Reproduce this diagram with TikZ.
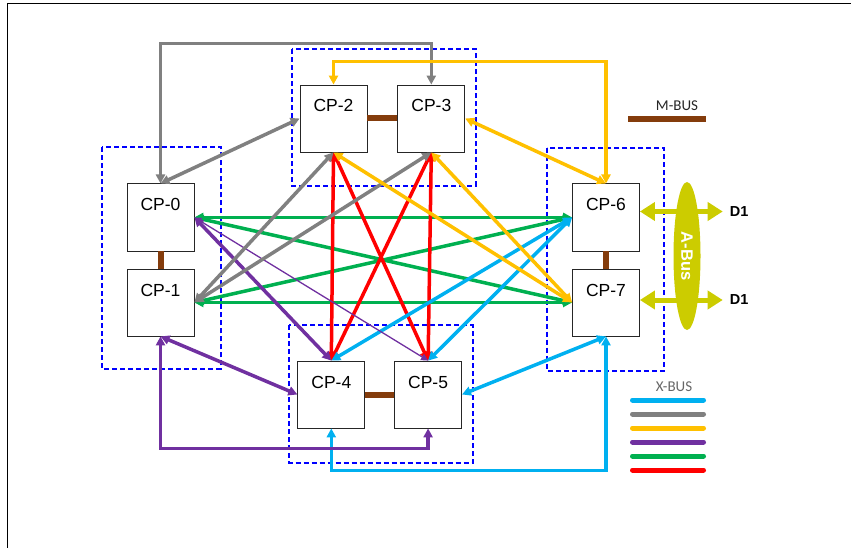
\documentclass[tikz,border=0pt]{standalone}
\usepackage{fontspec}
\setmainfont{Liberation Sans}
\newfontfamily\legendfont{Carlito}
\usetikzlibrary{arrows.meta, positioning, shapes.geometric}

\definecolor{mbus}{HTML}{843C0C}
\definecolor{xcyan}{HTML}{00B0F0}
\definecolor{xgray}{HTML}{808080}
\definecolor{xgold}{HTML}{FFC000}
\definecolor{xpurple}{HTML}{7030A0}
\definecolor{xgreen}{HTML}{00B050}
\definecolor{xred}{HTML}{FF0000}
\definecolor{abus}{HTML}{CCCC00}

\begin{document}
\begin{tikzpicture}[x=1pt, y=-1pt,
  cp/.style={draw=black!85, fill=white, line width=0.8pt, minimum width=67pt, minimum height=67pt,
    inner sep=0pt, text height=27pt, text depth=40pt, font=\fontsize{17.5}{20}\selectfont},
  grp/.style={blue, line width=1.8pt, dash pattern=on 5pt off 3pt},
  mlink/.style={mbus, line width=6pt},
  xbus/.style={line width=3.5pt, {Triangle[length=9pt,width=9pt]}-{Triangle[length=9pt,width=9pt]}},
  thinbus/.style={line width=1.3pt, {Triangle[length=7pt,width=7pt]}-{Triangle[length=7pt,width=7pt]}},
  dlink/.style={abus, line width=5pt, {Triangle[length=15pt,width=18pt]}-{Triangle[length=15pt,width=18pt]}},
  d1/.style={font=\bfseries\fontsize{14.5}{16}\selectfont, inner sep=7pt},
  legend/.style={font=\legendfont\fontsize{15}{17}\selectfont}
]
\useasboundingbox (0,0) rectangle (851,548);
\draw[line width=1pt] (7.5,548) -- (7.5,3.5) -- (851,3.5);

\draw[grp] (291.7,49.3) rectangle (475.7,185.7);
\draw[grp] (102,147.3) rectangle (220.7,369);
\draw[grp] (289,325.3) rectangle (472.7,462.7);
\draw[grp] (547.3,147.7) rectangle (664.3,370.7);

\node[cp] (cp0) at (160.5,217.4) {CP-0};
\node[cp, below=17.3pt of cp0] (cp1) {CP-1};
\node[cp] (cp2) at (333.5,118.5) {CP-2};
\node[cp, right=30pt of cp2] (cp3) {CP-3};
\node[cp] (cp4) at (331.3,394.5) {CP-4};
\node[cp, right=29pt of cp4] (cp5) {CP-5};
\node[cp] (cp6) at (606,217.4) {CP-6};
\node[cp, below=17.3pt of cp6] (cp7) {CP-7};

\coordinate (grayrail) at (0,43.3);
\coordinate (goldrail) at (0,61.7);
\coordinate (purplerail) at (0,448.3);
\coordinate (cyanrail) at (0,470.7);

\draw[mlink] (cp0.south) -- (cp1.north);
\draw[mlink] (cp2.east) -- (cp3.west);
\draw[mlink] (cp4.east) -- (cp5.west);
\draw[mlink] (cp6.south) -- (cp7.north);

\draw[xbus, xgreen] (cp0.east) -- (cp6.west);
\draw[xbus, xgreen] (cp1.east) -- (cp7.west);
\draw[xbus, xgreen] (cp0.east) -- (cp7.west);
\draw[xbus, xgreen] (cp1.east) -- (cp6.west);

\draw[xbus, xred] (cp2.south) -- (cp4.north);
\draw[xbus, xred] (cp3.south) -- (cp5.north);
\draw[xbus, xred] (cp2.south) -- (cp5.north);
\draw[xbus, xred] (cp3.south) -- (cp4.north);

\draw[xbus, xcyan] (cp4.north) -- (cp6.west);
\draw[xbus, xcyan] (cp5.north) -- (cp6.west);
\draw[xbus, xcyan] (cp5.east) -- (cp7.south);
\draw[xbus, xcyan] (cp4.south) -- (cp4.south |- cyanrail) -| (cp7.south);

\draw[xbus, xpurple] (cp0.east) -- (cp4.north);
\draw[thinbus, xpurple] (cp0.east) -- (cp5.north);
\draw[xbus, xpurple] (cp1.south) -- (cp4.west);
\draw[xbus, xpurple] (cp1.south) -- (cp1.south |- purplerail) -| (cp5.south);

\draw[xbus, xgray] (cp0.north) -- (cp0.north |- grayrail) -| (cp3.north);
\draw[xbus, xgray] (cp0.north) -- (cp2.west);
\draw[xbus, xgray] (cp1.east) -- (cp2.south);
\draw[xbus, xgray] (cp1.east) -- (cp3.south);

\draw[xbus, xgold] (cp2.north) -- (cp2.north |- goldrail) -| (cp6.north);
\draw[xbus, xgold] (cp3.east) -- (cp6.north);
\draw[xbus, xgold] (cp2.south) -- (cp7.west);
\draw[xbus, xgold] (cp3.south) -- (cp7.west);

\node[d1] (d1a) at (739.2,211.5) {D1};
\node[d1] (d1b) at (739.2,300) {D1};
\draw[dlink] (cp6.east |- d1a.west) -- (d1a.west);
\draw[dlink] (cp7.east |- d1b.west) -- (d1b.west);
\node[ellipse, fill=abus, rotate=-90, minimum width=148pt, minimum height=27pt, inner sep=0pt,
  text=white, font=\bfseries\fontsize{16.5}{18}\selectfont] (abusnode) at (687,256) {A-Bus};

\node[legend, text=black!85] (mbuslabel) at (677,106) {M-BUS};
\draw[mlink] (628,119) -- (706,119);
\node[legend, text=black!60] (xbuslabel) at (674,387) {X-BUS};
\foreach \c [count=\i] in {xcyan,xgray,xgold,xpurple,xgreen,xred}
  \draw[\c, line width=5pt, line cap=round] (632.5,386+14*\i) -- (703.5,386+14*\i);
\end{tikzpicture}
\end{document}
